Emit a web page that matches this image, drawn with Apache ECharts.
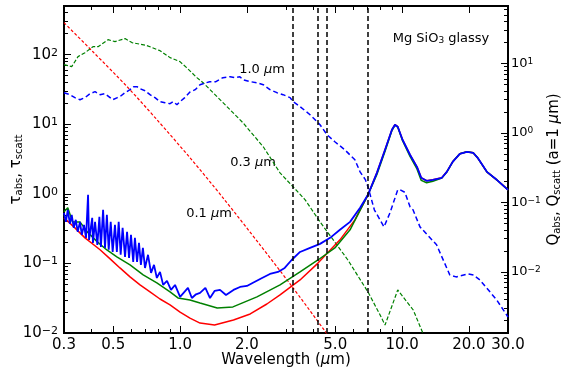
<!DOCTYPE html>
<html lang="en">
<head>
<meta charset="UTF-8">
<title>Mg SiO3 glassy</title>
<script src="https://cdn.jsdelivr.net/npm/echarts@6/dist/echarts.min.js"></script>
<style>
  html, body { margin: 0; padding: 0; background: #fff; }
  #main { width: 569px; height: 379px; }
</style>
</head>
<body>
<div id="main"></div>
<script>
  var FONT = 'DejaVu Sans';

  // axis ranges / ticks
  var xMin = 0.3, xMax = 30;
  var yMin = 0.01, yMax = 500;        // tau (left)
  var qMin = 0.00132, qMax = 67;      // Q (right)
  var xMajor = [0.3, 0.5, 1, 2, 5, 10, 20, 30];
  var xMinor = [0.4, 0.6, 0.7, 0.8, 0.9, 3, 4, 6, 7, 8, 9];
  var yMajor = [0.01, 0.1, 1, 10, 100];
  var qMajor = [0.01, 0.1, 1, 10];

  // vertical band markers (micron)
  var bandLines = [3.23, 4.18, 4.59, 7.02];

  // tau_scatt, a = 0.1 um (red dashed)
  var wlScat01 = [0.3, 0.405, 0.577, 0.787, 1.108, 1.561, 2.29, 3.13, 4.49, 4.8];
  var tauScat01 = [288, 110, 34.7, 11.6, 3.30, 0.876, 0.185, 0.0507, 0.0107, 0.0079];

  // tau_scatt, a = 0.3 um (green dashed)
  var wlScat03 = [0.3, 0.325, 0.347, 0.373, 0.405, 0.427, 0.474, 0.509, 0.565, 0.607, 0.709, 0.812, 0.901,
    0.999, 1.07, 1.19, 1.27, 1.561, 1.92, 2.37, 2.82, 3.23, 3.66, 4.27, 5.70, 7.02, 7.96, 8.38, 9.56, 11.23, 12.4, 13.0];
  var tauScat03 = [71.8, 67.2, 93.6, 106.8, 130, 130, 164, 154, 170, 149, 135, 114, 90.6,
    79.3, 65.0, 46.7, 39.5, 20.4, 10.5, 4.74, 2.0, 1.26, 0.82, 0.395, 0.112, 0.0389, 0.0182, 0.013, 0.0416, 0.0214, 0.01, 0.0075];

  // tau_scatt, a = 1.0 um (blue dashed)
  var wlScat10 = [0.3, 0.319, 0.336, 0.354, 0.373, 0.393, 0.414, 0.436, 0.459, 0.484, 0.497, 0.522, 0.536, 0.565,
    0.595, 0.615, 0.640, 0.660, 0.695, 0.732, 0.771, 0.812, 0.855, 0.901, 0.930, 0.968, 1.0, 1.05, 1.108, 1.17,
    1.23, 1.36, 1.45, 1.56, 1.68, 1.77, 1.86, 1.92, 2.07, 2.22, 2.37, 2.54, 2.73, 2.91, 3.13, 3.23, 3.47, 3.85,
    4.27, 4.59, 4.98, 5.52, 6.13, 6.47, 6.83, 7.02, 7.5, 8.29, 8.82, 9.56, 9.8, 10.3, 10.86, 11.2, 12.04, 14.3,
    16.4, 17.5, 19.8, 21.0, 22.4, 26.7, 30];
  var tauScat10 = [28.4, 26.6, 24.1, 22.5, 24.1, 27.5, 29.4, 26.6, 27.5, 24.1, 22.5, 24.1, 24.9, 28.4,
    31.4, 34.7, 34.7, 32.4, 30.3, 26.6, 24.1, 21.1, 20.4, 19.7, 21.1, 19.1, 21.1, 24.1, 29.0, 31.4,
    37.0, 40.9, 40.9, 46.7, 48.2, 46.7, 48.2, 43.7, 40.9, 39.5, 37.0, 31.4, 28.4, 26.6, 24.1, 21.1, 17.9, 13.7,
    9.84, 7.06, 5.60, 4.30, 3.08, 2.07, 1.60, 1.26, 0.589, 0.335, 0.533, 1.14, 1.14, 1.05, 0.650, 0.589, 0.335, 0.185,
    0.0684, 0.064, 0.0706, 0.068, 0.058, 0.0298, 0.017];

  // tau_abs, a = 0.1 um (red solid), up to 7 um
  var wlAbs01 = [0.3, 0.336, 0.373, 0.436, 0.484, 0.536, 0.595, 0.660, 0.732, 0.812, 0.901, 1.0, 1.108, 1.23,
    1.43, 1.74, 2.07, 2.46, 2.82, 3.47, 4.18, 5.25, 6.13];
  var tauAbs01 = [0.452, 0.324, 0.233, 0.157, 0.116, 0.0861, 0.064, 0.0491, 0.0389, 0.0308, 0.0253, 0.0200, 0.0164, 0.0139,
    0.0130, 0.0154, 0.0188, 0.0261, 0.0352, 0.0579, 0.101, 0.218, 0.423];

  // tau_abs, a = 0.3 um (green solid), up to 7 um
  var wlAbs03 = [0.3, 0.312, 0.328, 0.354, 0.382, 0.424, 0.468, 0.519, 0.595, 0.682, 0.786, 0.901, 0.978, 1.108,
    1.23, 1.47, 1.73, 2.22, 2.82, 3.47, 4.18, 4.98, 5.83];
  var tauAbs03 = [0.551, 0.629, 0.395, 0.395, 0.284, 0.204, 0.156, 0.124, 0.095, 0.0684, 0.0524, 0.0389, 0.0319, 0.0298,
    0.027, 0.0229, 0.0237, 0.033, 0.0491, 0.0755, 0.112, 0.167, 0.304];

  // tau_abs, a = 1.0 um (blue solid, with interference ripples), up to 7 um
  var wlAbs10 = [0.300, 0.306, 0.312, 0.319, 0.325, 0.332, 0.339, 0.346, 0.354, 0.361, 0.369, 0.377, 0.385, 0.389,
    0.402, 0.405, 0.414, 0.424, 0.433, 0.440, 0.450, 0.459, 0.468, 0.477, 0.487, 0.497, 0.509, 0.519, 0.529, 0.540,
    0.551, 0.565, 0.577, 0.589, 0.601, 0.615, 0.626, 0.640, 0.653, 0.666, 0.680, 0.695, 0.717, 0.740, 0.763, 0.786,
    0.812, 0.839, 0.873, 0.910, 0.949, 1.0, 1.085, 1.13, 1.18, 1.23, 1.30, 1.364, 1.43, 1.513, 1.61, 1.74, 1.862,
    2.0, 2.12, 2.34, 2.54, 2.76, 2.96, 3.18, 3.47, 3.85, 4.27, 4.74, 5.25, 5.83, 6.47];
  var tauAbs10 = [0.533, 0.395, 0.589, 0.370, 0.499, 0.324, 0.423, 0.284, 0.395, 0.257, 0.358, 0.233, 0.968, 0.218,
    0.452, 0.197, 0.395, 0.185, 0.467, 0.173, 0.589, 0.167, 0.499, 0.157, 0.395, 0.146, 0.358, 0.146, 0.395, 0.133,
    0.324, 0.124, 0.284, 0.120, 0.257, 0.105, 0.233, 0.105, 0.197, 0.0952, 0.167, 0.0861, 0.133, 0.0730, 0.0952, 0.0618,
    0.0755, 0.0491, 0.0560, 0.0416, 0.049, 0.0330, 0.0444, 0.0318, 0.036, 0.0377, 0.0444, 0.0318, 0.0402, 0.0416, 0.0352, 0.0416, 0.0459,
    0.0474, 0.0524, 0.0618, 0.0706, 0.0755, 0.0861, 0.112, 0.146, 0.167, 0.191, 0.233, 0.304, 0.395, 0.63];

  // tau_abs beyond 7 um (silicate features), shared by the three sizes
  var wlTail = [7.02, 7.70, 8.38, 9.0, 9.29, 9.56, 10.05, 10.86, 11.67, 12.2, 12.9, 13.76, 15.1, 15.9, 16.9,
    18.2, 19.6, 20.9, 21.9, 24.1, 26.7, 30];
  var tauTail = [0.968, 2.0, 4.30, 8.34, 9.84, 9.21, 5.98, 3.64, 2.44, 1.70, 1.54, 1.59, 1.70, 2.07, 2.88,
    3.76, 4.02, 3.89, 3.29, 2.07, 1.59, 1.14];
  var tauTailG = [0.968, 1.9, 4.10, 8.10, 9.70, 9.10, 5.80, 3.45, 2.28, 1.56, 1.44, 1.52, 1.68, 2.05, 2.88,
    3.76, 4.02, 3.89, 3.29, 2.07, 1.59, 1.14];

  function pairs(xs, ys) {
    var out = [];
    for (var i = 0; i < xs.length; i++) out.push([xs[i], ys[i]]);
    return out;
  }

  function decadeMinors(lo, hi) {
    var out = [];
    for (var e = -4; e <= 3; e++) {
      for (var m = 2; m <= 9; m++) {
        var v = m * Math.pow(10, e);
        if (v > lo && v < hi) out.push(v);
      }
    }
    return out;
  }

  function supLabel(v) {
    var e = Math.round(Math.log10(v));
    return '{b|10}{s|' + (e < 0 ? '\u2212' + (-e) : e) + '}';
  }

  var tickStyle = {color: '#000', width: 1};

  var xBase = {
    type: 'log', min: xMin, max: xMax, gridIndex: 0,
    axisLine: {show: false}, splitLine: {show: false}
  };
  function xAx(pos, major) {
    return Object.assign({}, xBase, {
      position: pos,
      axisTick: {inside: true, length: major ? 7 : 4, customValues: major ? xMajor : xMinor, lineStyle: tickStyle},
      axisLabel: (pos === 'bottom' && major) ? {
        customValues: xMajor, color: '#000', fontFamily: FONT, fontSize: 15, margin: 5,
        formatter: function (v) { return (+v).toFixed(1); }
      } : {show: false},
      name: (pos === 'bottom' && major) ? '{t|Wavelength (}{i|\u03bc}{t|m)}' : '',
      nameLocation: 'middle', nameGap: 20, nameMoveOverlap: false,
      nameTextStyle: {
        rich: {
          t: {fontFamily: FONT, fontSize: 15, color: '#000'},
          i: {fontFamily: FONT, fontSize: 15, color: '#000', fontStyle: 'italic'}
        }
      }
    });
  }

  var subRich = {
    t: {fontFamily: FONT, fontSize: 15, color: '#000'},
    i: {fontFamily: FONT, fontSize: 15, color: '#000', fontStyle: 'italic'},
    s: {fontFamily: FONT, fontSize: 10, color: '#000', verticalAlign: 'bottom'}
  };

  var myChart = echarts.init(document.getElementById('main'), null, {renderer: 'canvas'});

  var option = {
    backgroundColor: '#fff',
    animation: false,
    grid: {
      left: 64, right: 61, top: 6, bottom: 46, outerBoundsMode: 'none', containLabel: false,
      show: true, borderColor: '#000', borderWidth: 2, backgroundColor: 'transparent'
    },
    xAxis: [xAx('bottom', true), xAx('bottom', false), xAx('top', true), xAx('top', false)],
    yAxis: [
      {
        type: 'log', min: yMin, max: yMax, position: 'left',
        axisLine: {show: false}, splitLine: {show: false},
        axisTick: {inside: true, length: 7, customValues: yMajor, lineStyle: tickStyle},
        axisLabel: {
          customValues: yMajor, margin: 6, formatter: supLabel,
          rich: {
            b: {fontFamily: FONT, fontSize: 15, color: '#000'},
            s: {fontFamily: FONT, fontSize: 11, color: '#000', verticalAlign: 'top'}
          }
        },
        name: '{t|\u03c4}{s|abs}{t|, \u03c4}{s|scatt}',
        nameLocation: 'middle', nameGap: 40, nameRotate: 90, nameMoveOverlap: false,
        nameTextStyle: {rich: subRich}
      },
      {
        type: 'log', min: yMin, max: yMax, position: 'left',
        axisLine: {show: false}, splitLine: {show: false},
        axisTick: {inside: true, length: 4, customValues: decadeMinors(yMin, yMax), lineStyle: tickStyle},
        axisLabel: {show: false}
      },
      {
        type: 'log', min: qMin, max: qMax, position: 'right',
        axisLine: {show: false}, splitLine: {show: false},
        axisTick: {inside: true, length: 7, customValues: qMajor, lineStyle: tickStyle},
        axisLabel: {
          customValues: qMajor, margin: 3, formatter: supLabel,
          rich: {
            b: {fontFamily: FONT, fontSize: 13, color: '#000'},
            s: {fontFamily: FONT, fontSize: 9, color: '#000', verticalAlign: 'top'}
          }
        },
        name: '{t|Q}{s|abs}{t|, Q}{s|scatt}{t| (a=1 }{i|\u03bc}{t|m)}',
        nameLocation: 'middle', nameGap: 39, nameRotate: 90, nameMoveOverlap: false,
        nameTextStyle: {rich: subRich}
      },
      {
        type: 'log', min: qMin, max: qMax, position: 'right',
        axisLine: {show: false}, splitLine: {show: false},
        axisTick: {inside: true, length: 4, customValues: decadeMinors(qMin, qMax), lineStyle: tickStyle},
        axisLabel: {show: false}
      }
    ],
    series: [
      {
        name: 'scatt 0.1', type: 'line', showSymbol: false, smooth: 0.3, data: pairs(wlScat01, tauScat01),
        lineStyle: {color: '#ff0000', width: 1.2, type: [3, 2]}
      },
      {
        name: 'scatt 0.3', type: 'line', showSymbol: false, data: pairs(wlScat03, tauScat03),
        lineStyle: {color: '#008000', width: 1.2, type: [4, 2]}
      },
      {
        name: 'scatt 1.0', type: 'line', showSymbol: false, data: pairs(wlScat10, tauScat10),
        lineStyle: {color: '#0000ff', width: 1.5, type: [5, 3]}
      },
      {
        name: 'abs 0.1', type: 'line', showSymbol: false,
        data: pairs(wlAbs01.concat(wlTail), tauAbs01.concat(tauTail)),
        lineStyle: {color: '#ff0000', width: 1.5}
      },
      {
        name: 'abs 0.3', type: 'line', showSymbol: false,
        data: pairs(wlAbs03.concat(wlTail), tauAbs03.concat(tauTailG)),
        lineStyle: {color: '#008000', width: 1.5}
      },
      {
        name: 'abs 1.0', type: 'line', showSymbol: false,
        data: pairs(wlAbs10.concat(wlTail), tauAbs10.concat(tauTail)),
        lineStyle: {color: '#0000ff', width: 1.8},
        markLine: {
          silent: true, symbol: 'none', label: {show: false},
          lineStyle: {color: '#000', width: 1.5, type: [5, 3]},
          data: bandLines.map(function (v) { return {xAxis: v}; })
        }
      }
    ],
    graphic: [
      {type: 'text', x: 262, y: 70, style: {text: '{t|1.0 }{i|\u03bc}{t|m}', align: 'center', verticalAlign: 'middle',
        rich: {t: {fontFamily: FONT, fontSize: 13, fill: '#000'}, i: {fontFamily: FONT, fontSize: 13, fill: '#000', fontStyle: 'italic'}}}},
      {type: 'text', x: 253, y: 163, style: {text: '{t|0.3 }{i|\u03bc}{t|m}', align: 'center', verticalAlign: 'middle',
        rich: {t: {fontFamily: FONT, fontSize: 13, fill: '#000'}, i: {fontFamily: FONT, fontSize: 13, fill: '#000', fontStyle: 'italic'}}}},
      {type: 'text', x: 209, y: 214, style: {text: '{t|0.1 }{i|\u03bc}{t|m}', align: 'center', verticalAlign: 'middle',
        rich: {t: {fontFamily: FONT, fontSize: 13, fill: '#000'}, i: {fontFamily: FONT, fontSize: 13, fill: '#000', fontStyle: 'italic'}}}},
      {type: 'text', x: 441, y: 39, style: {text: '{t|Mg SiO}{s|3}{t| glassy}', align: 'center', verticalAlign: 'middle',
        rich: {t: {fontFamily: FONT, fontSize: 13, fill: '#000'}, s: {fontFamily: FONT, fontSize: 9, fill: '#000', verticalAlign: 'bottom'}}}}
    ]
  };
  myChart.setOption(option);

  window.addEventListener('resize', function () {
    myChart.resize();
  });
</script>
</body>
</html>
